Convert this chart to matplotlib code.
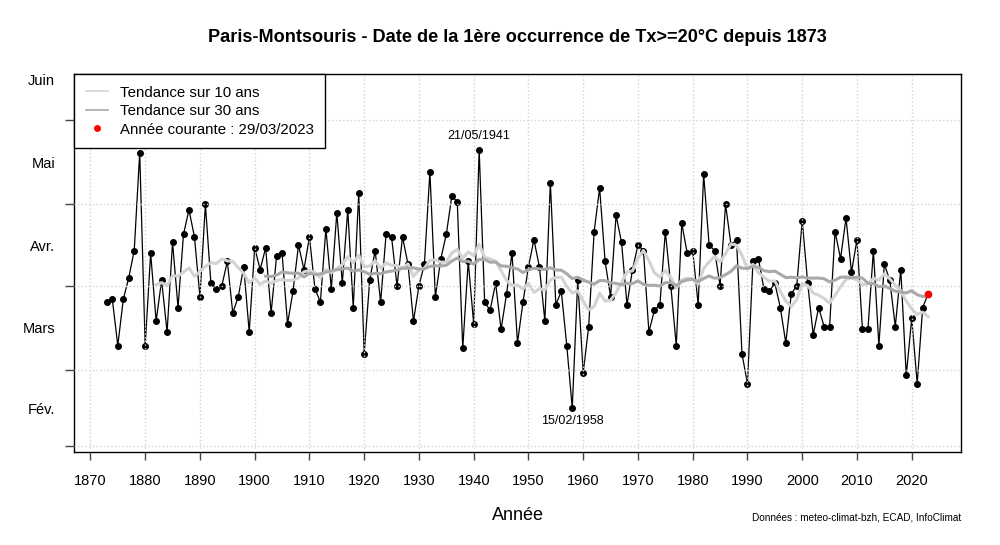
import datetime
import numpy as np
import pandas as pd
import matplotlib
matplotlib.use("Agg")
import matplotlib.pyplot as plt
from matplotlib.lines import Line2D

plt.rcParams['font.family'] = ['Liberation Sans', 'DejaVu Sans']

# day of year of the first Tx >= 20°C, 1873 -> 2023
years = np.arange(1873, 2024)
days = [
    85, 86, 69, 86, 94, 104, 140,                       # 1873-1879
    69, 103, 78, 93, 74, 107, 83, 110, 119, 109,        # 1880s
    87, 121, 92, 90, 91, 100, 81, 87, 98, 74,           # 1890s
    105, 97, 105, 81, 102, 103, 77, 89, 106, 97,        # 1900s
    109, 90, 85, 112, 90, 118, 92, 119, 83, 125,        # 1910s
    66, 93, 104, 85, 110, 109, 91, 109, 99, 78,         # 1920s
    91, 99, 133, 87, 101, 110, 124, 122, 68, 100,       # 1930s
    77, 141, 85, 82, 92, 75, 88, 103, 70, 85,           # 1940s
    98, 108, 98, 78, 129, 84, 89, 69, 46, 93,           # 1950s
    59, 76, 111, 127, 100, 87, 117, 107, 84, 97,        # 1960s
    106, 104, 74, 82, 84, 111, 91, 69, 114, 103,        # 1970s
    104, 84, 132, 106, 104, 91, 121, 106, 108, 66,      # 1980s
    55, 100, 101, 90, 89, 92, 83, 70, 88, 91,           # 1990s
    115, 92, 73, 83, 76, 76, 111, 101, 116, 96,         # 2000s
    108, 75, 75, 104, 69, 99, 93, 76, 97, 58,           # 2010s
    79, 55, 83, 88,                                     # 2020-2023
]

month_starts = [32, 60, 91, 121, 152, 182]
month_labels = ["Fév.", "Mars", "Avr.", "Mai", "Juin"]
decades = list(range(1870, 2030, 10))


def doy_str(year, d):
    return (datetime.date(year, 1, 1) + datetime.timedelta(days=d - 1)).strftime("%d/%m/%Y")


s = pd.Series(days, index=years)
t10 = s.rolling(10).mean()
t30 = s.rolling(30).mean()
month_mids = [(a + b) / 2 for a, b in zip(month_starts[:-1], month_starts[1:])]

fig = plt.figure(figsize=(10, 5.45), dpi=100)
ax = fig.add_axes([0.074, 0.1706, 0.887, 0.6936])

ax.plot(years, days, color='black', lw=0.9, marker='o', ms=4, zorder=2)
ax.plot(years, t10, color='#d3d3d3', lw=2.2, zorder=3)
ax.plot(years, t30, color='#a9a9a9', lw=2.2, zorder=3.1)
cur_year, cur_day = years[-1], days[-1]
ax.plot([cur_year], [cur_day], 'o', color='red', ms=4.5, zorder=5)

ax.set_xlim(1867, 2029)
ax.set_ylim(29.8, 169.0)

ax.set_xticks(decades)
ax.set_yticks(month_starts[:-1])
ax.set_yticklabels([])
ax.set_yticks(month_mids, minor=True)
ax.set_yticklabels(month_labels, minor=True)
ax.tick_params(axis='x', length=6, width=1, color='#444', pad=10, labelsize=10.5)
ax.tick_params(axis='y', which='major', length=6.5, width=1, color='#444')
ax.tick_params(axis='y', which='minor', length=0, pad=13.5, labelsize=10.5)
ax.set_axisbelow(False)
ax.grid(True, which='major', color='#d3d3d3', ls=':', lw=1)
for sp in ax.spines.values():
    sp.set_linewidth(1)
    sp.set_color('black')

imax = int(np.argmax(days))
imin = int(np.argmin(days))
ax.annotate(doy_str(years[imax], days[imax]), (years[imax], days[imax]),
            xytext=(0, 10), textcoords='offset points', ha='center', va='center', fontsize=9)
ax.annotate(doy_str(years[imin], days[imin]), (years[imin], days[imin]),
            xytext=(0, -9.5), textcoords='offset points', ha='center', va='center', fontsize=9)

handles = [
    Line2D([], [], color='#d3d3d3', lw=1.2),
    Line2D([], [], color='#a9a9a9', lw=1.2),
    Line2D([], [], color='red', marker='o', ls='none', ms=4),
]
labels = ["Tendance sur 10 ans", "Tendance sur 30 ans",
          "Année courante : " + doy_str(cur_year, cur_day)]
leg = ax.legend(handles, labels, loc='upper left', bbox_to_anchor=(0, 1), borderaxespad=0,
                fancybox=False, edgecolor='black', framealpha=1, fontsize=10.8,
                handlelength=1.5, handletextpad=0.8,
                labelspacing=0.3, borderpad=0.77)
leg.get_frame().set_linewidth(1.0)
leg.set_zorder(10)

fig.text(0.5175, 1 - 38 / 545, "Paris-Montsouris - Date de la 1ère occurrence de Tx>=20°C depuis 1873",
         ha='center', va='center', fontsize=13.1, fontweight='bold')
fig.text(0.5175, 1 - 516 / 545, "Année", ha='center', va='center', fontsize=13)
fig.text(0.961, 1 - 518 / 545, "Données : meteo-climat-bzh, ECAD, InfoClimat",
         ha='right', va='center', fontsize=7.2)

fig.savefig('out.png', dpi=100)
